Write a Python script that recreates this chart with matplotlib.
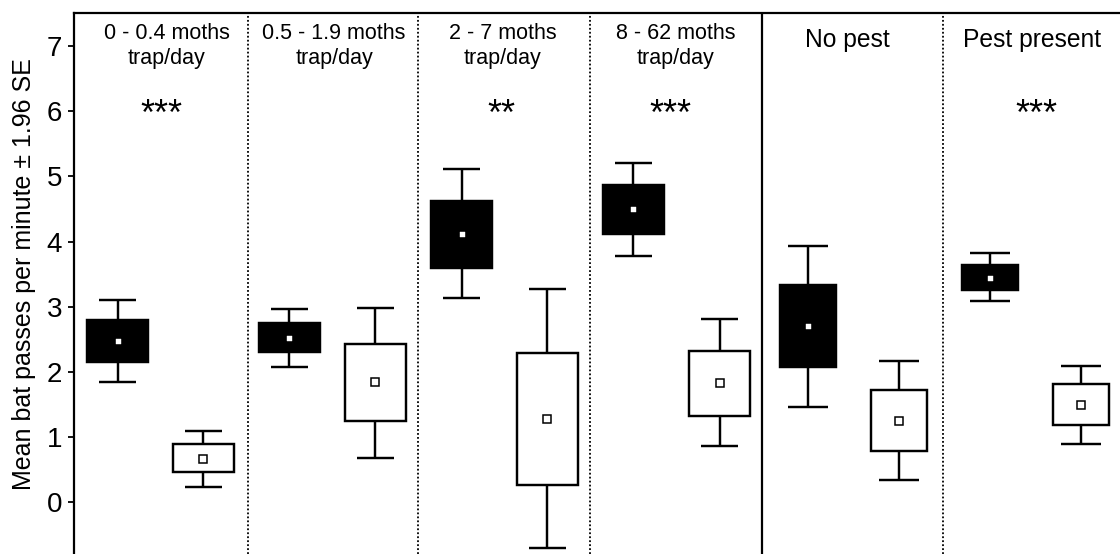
import matplotlib
matplotlib.use("Agg")
import matplotlib.pyplot as plt

plt.rcParams["font.family"] = ["Liberation Sans", "DejaVu Sans"]

# ---------------- data ----------------
groups = ["0 - 0.4 moths\ntrap/day", "0.5 - 1.9 moths\ntrap/day",
          "2 - 7 moths\ntrap/day", "8 - 62 moths\ntrap/day",
          "No pest", "Pest present"]
significance = ["***", "", "**", "***", "", "***"]

black_mean = [2.48, 2.52, 4.12, 4.50, 2.70, 3.45]
black_box_lo = [2.15, 2.30, 3.60, 4.12, 2.07, 3.26]
black_box_hi = [2.80, 2.76, 4.63, 4.87, 3.34, 3.64]
black_whisk_lo = [1.85, 2.07, 3.13, 3.78, 1.47, 3.09]
black_whisk_hi = [3.10, 2.97, 5.11, 5.21, 3.93, 3.82]

white_mean = [0.67, 1.84, 1.28, 1.83, 1.25, 1.50]
white_box_lo = [0.46, 1.25, 0.27, 1.33, 0.79, 1.19]
white_box_hi = [0.90, 2.43, 2.29, 2.33, 1.73, 1.81]
white_whisk_lo = [0.24, 0.68, -0.70, 0.86, 0.35, 0.90]
white_whisk_hi = [1.10, 2.99, 3.27, 2.81, 2.17, 2.10]

y_ticks = [0, 1, 2, 3, 4, 5, 6, 7]
y_label = "Mean bat passes per minute \u00b1 1.96 SE"

# ---------------- layout (horizontal positions in pixel-like units) ----------------
W, H = 1120, 554
x_left, x_right = 74, 1120
black_x = [117.5, 289, 461.5, 633, 808, 990]
white_x = [203, 375, 547, 719.5, 899, 1081]
box_w = [61, 61, 61, 61, 56, 56]
cap_w = [37, 37, 37, 37, 40, 40]
separators = [248, 418, 590, 762, 943]
sep_styles = ["dotted", "dotted", "dotted", "solid", "dotted"]
title_x = [167, 334, 503, 675.5, 847, 1032]
star_x = [161.7, 333, 501.7, 670, 852, 1036.7]

fig = plt.figure(figsize=(W / 100, H / 100), dpi=100)
ax = fig.add_axes([x_left / W, 0, (x_right - x_left) / W, 1 - 13.4 / H])
ax.set_xlim(x_left, x_right)
ax.set_ylim(-0.79, 7.50)

lw = 1.75


def draw_box(xs, mean, blo, bhi, wlo, whi, face, mface, medge, msize, mew):
    for i in range(len(xs)):
        x = xs[i]
        ax.bar(x, bhi[i] - blo[i], bottom=blo[i], width=box_w[i], color=face,
               edgecolor="black", linewidth=lw, zorder=3)
        ax.vlines(x, bhi[i], whi[i], color="black", linewidth=lw, zorder=2)
        ax.vlines(x, wlo[i], blo[i], color="black", linewidth=lw, zorder=2)
        ax.hlines([whi[i], wlo[i]], x - cap_w[i] / 2, x + cap_w[i] / 2,
                  color="black", linewidth=lw, zorder=2)
        ax.plot(x, mean[i], marker="s", markersize=msize, markerfacecolor=mface,
                markeredgecolor=medge, markeredgewidth=mew, zorder=4)


draw_box(black_x, black_mean, black_box_lo, black_box_hi, black_whisk_lo,
         black_whisk_hi, "black", "white", "white", 3.6, 0.3)
draw_box(white_x, white_mean, white_box_lo, white_box_hi, white_whisk_lo,
         white_whisk_hi, "white", "white", "black", 5.2, 1.1)

for sx, st in zip(separators, sep_styles):
    if st == "solid":
        ax.axvline(sx, color="black", linewidth=1.6, zorder=1)
    else:
        ax.axvline(sx, color="black", linewidth=1.3, linestyle=(0, (1.0, 1.2)), zorder=1)


def px_to_y(py):
    return (502.5 - py) / 65.2


for i, g in enumerate(groups):
    lines = g.split("\n")
    if len(lines) == 2:
        ax.text(title_x[i], px_to_y(39), lines[0], ha="center", va="baseline", fontsize=15.5)
        ax.text(title_x[i], px_to_y(64), lines[1], ha="center", va="baseline", fontsize=15.5)
    else:
        ax.text(title_x[i], px_to_y(47.5), lines[0], ha="center", va="baseline", fontsize=17.7)
    if significance[i]:
        ax.text(star_x[i], px_to_y(125), significance[i], ha="center", va="baseline",
                fontsize=26)

ax.set_yticks(y_ticks)
ax.set_xticks([])
ax.tick_params(axis="y", length=4.5, width=1.3, pad=4, labelsize=20, direction="out")
for s in ["right", "bottom"]:
    ax.spines[s].set_visible(False)
for s in ["left", "top"]:
    ax.spines[s].set_linewidth(1.6)

ax.set_ylabel(y_label, fontsize=18, va="center")
ax.yaxis.set_label_coords(-0.0475, 0.517)

fig.savefig("out.png", dpi=100)
